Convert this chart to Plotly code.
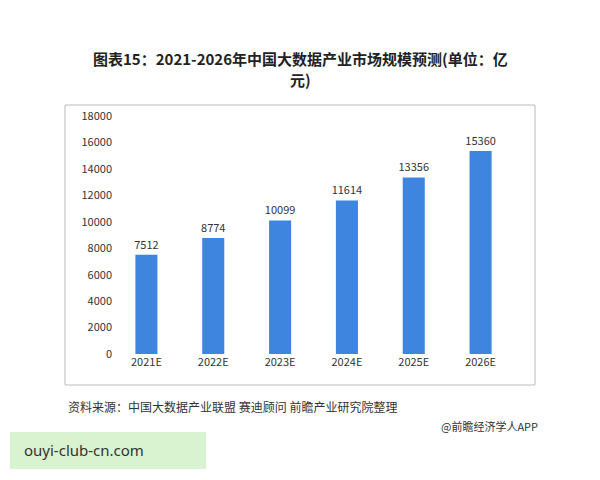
import plotly.graph_objects as go

years = ["2021E", "2022E", "2023E", "2024E", "2025E", "2026E"]
values = [7512, 8774, 10099, 11614, 13356, 15360]
yticks = list(range(0, 18001, 2000))

W, H = 600, 480
OFF = 8
L, R, T, B = 113 - OFF, 86 + OFF, 116 - OFF, 126 + OFF
pw, ph = W - L - R, H - T - B
def px(x): return (x - OFF - L) / pw
def py(y): return (H - B - (y - OFF)) / ph

fig = go.Figure(go.Bar(
    x=years, y=values, width=0.33,
    marker=dict(color="#3d85de", line=dict(width=0)),
    text=[str(v) for v in values], textposition="outside",
    textfont=dict(size=11, color="#333"), cliponaxis=False, constraintext="none",
))
fig.update_layout(
    width=W, height=H, margin=dict(l=L, r=R, t=T, b=B),
    paper_bgcolor="white", plot_bgcolor="white", showlegend=False,
    font=dict(family="Noto Sans CJK SC", color="#333"),
    uniformtext=dict(minsize=11, mode="show"),
    xaxis=dict(showline=False, ticks="", tickfont=dict(size=11)),
    yaxis=dict(range=[0, 18000], tickvals=yticks, ticktext=[str(v) for v in yticks],
               showgrid=False, zeroline=False, tickfont=dict(size=11), ticklen=0),
    shapes=[dict(type="rect", xref="paper", yref="paper",
                 x0=px(65), x1=px(535), y0=py(385), y1=py(105),
                 line=dict(color="#bbbbbb", width=1)),
            dict(type="rect", xref="paper", yref="paper",
                 x0=px(10), x1=px(206), y0=py(469), y1=py(432),
                 fillcolor="#d9f2cf", line=dict(width=0))],
    annotations=[
        dict(text="<b>图表15：2021-2026年中国大数据产业市场规模预测(单位：亿</b>", xref="paper", yref="paper",
             x=px(300), y=py(59), yanchor="middle", showarrow=False, font=dict(size=15, color="#222")),
        dict(text="<b>元)</b>", xref="paper", yref="paper",
             x=px(300), y=py(79), yanchor="middle", showarrow=False, font=dict(size=15, color="#222")),
        dict(text="资料来源：中国大数据产业联盟 赛迪顾问 前瞻产业研究院整理", xref="paper", yref="paper",
             x=px(66), y=py(417), xanchor="left", showarrow=False, font=dict(size=12, color="#333")),
        dict(text="@前瞻经济学人APP", xref="paper", yref="paper",
             x=px(540), y=py(436), xanchor="right", showarrow=False, font=dict(size=11, color="#333")),
        dict(text="ouyi-club-cn.com", xref="paper", yref="paper",
             x=px(22), y=py(462), xanchor="left", showarrow=False, font=dict(size=15, color="#333", family="Noto Sans")),
    ],
)
fig.write_html("out.html")
